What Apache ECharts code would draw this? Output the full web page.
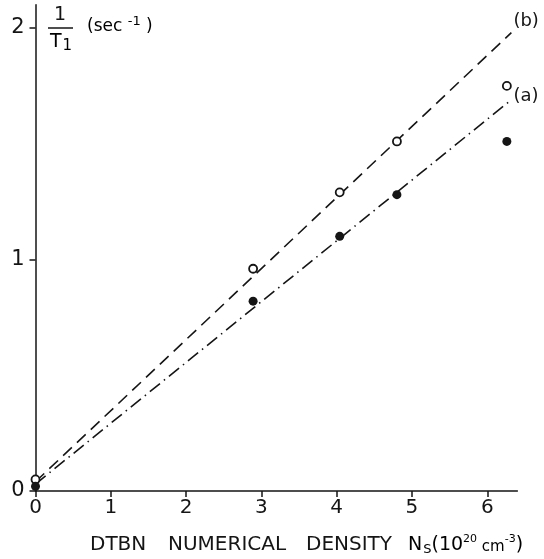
<!DOCTYPE html>
<html>
<head>
<meta charset="utf-8">
<script src="https://cdn.jsdelivr.net/npm/echarts@6/dist/echarts.min.js"></script>
<style>
  html, body { margin: 0; padding: 0; background: #fff; }
  #chart { width: 544px; height: 559px; }
</style>
</head>
<body>
<div id="chart"></div>
<script>
// Relaxation rate 1/T1 against DTBN numerical density
const densityB = [0, 2.89, 4.04, 4.80, 6.26];
const rateB = [0.05, 0.96, 1.29, 1.51, 1.75];
const densityA = [0, 2.89, 4.04, 4.80, 6.26];
const rateA = [0.02, 0.82, 1.10, 1.28, 1.51];

// Straight fitted lines (end points)
const fitX = [0, 6.32];
const fitB = [0.04, 1.98];
const fitA = [0.03, 1.69];

const xTicks = [0, 1, 2, 3, 4, 5, 6];
const yTicks = [0, 1, 2];

const ink = '#151515';
const font = 'DejaVu Sans';

const zip = (xs, ys) => xs.map((x, i) => [x, ys[i]]);

const chart = echarts.init(document.getElementById('chart'), null, { renderer: 'canvas' });

chart.setOption({
  animation: false,
  backgroundColor: '#fff',
  grid: { left: 35.5, right: 26.6, top: 4.85, bottom: 68, containLabel: false },
  xAxis: {
    type: 'value', min: 0, max: 6.4,
    splitLine: { show: false },
    axisLine: { show: true, onZero: false, lineStyle: { color: ink, width: 1.5 } },
    axisTick: { show: true, customValues: xTicks, length: 6, lineStyle: { color: ink, width: 1.5 } },
    axisLabel: { customValues: xTicks, color: ink, fontFamily: font, fontSize: 20, margin: 7 }
  },
  yAxis: {
    type: 'value', min: 0, max: 2.1,
    splitLine: { show: false },
    axisLine: { show: true, onZero: false, lineStyle: { color: ink, width: 1.5 } },
    axisTick: { show: true, customValues: yTicks, length: 6, lineStyle: { color: ink, width: 1.5 } },
    axisLabel: { customValues: yTicks, color: ink, fontFamily: font, fontSize: 21, margin: 11 }
  },
  series: [
    {
      name: 'fit (b)', type: 'line', data: zip(fitX, fitB), showSymbol: false, z: 2,
      lineStyle: { color: ink, width: 1.6, type: [12, 7] },
      endLabel: { show: true, formatter: '(b)', color: ink, fontFamily: font, fontSize: 18,
        distance: 2, offset: [0, -11] }
    },
    {
      name: 'fit (a)', type: 'line', data: zip(fitX, fitA), showSymbol: false, z: 2,
      lineStyle: { color: ink, width: 1.6, type: [13, 5, 1.5, 5] },
      endLabel: { show: true, formatter: '(a)', color: ink, fontFamily: font, fontSize: 18,
        distance: 2, offset: [0, -3] }
    },
    {
      name: '(b)', type: 'scatter', data: zip(densityB, rateB), symbol: 'circle', symbolSize: 8, z: 3,
      itemStyle: { color: '#fff', borderColor: ink, borderWidth: 1.8, opacity: 1 }
    },
    {
      name: '(a)', type: 'scatter', data: zip(densityA, rateA), symbol: 'circle', symbolSize: 9, z: 4,
      itemStyle: { color: ink, opacity: 1 }
    }
  ],
  graphic: [
    // y-axis title: 1/T1 (sec^-1)
    { type: 'text', x: 60, y: 15, style: { text: '1', font: '19px "DejaVu Sans"', fill: ink, align: 'center', verticalAlign: 'middle' } },
    { type: 'line', shape: { x1: 48, y1: 28, x2: 73, y2: 28 }, style: { stroke: ink, lineWidth: 1.5 } },
    { type: 'text', x: 50, y: 42, style: {
        text: '{t|T}{s|1}', verticalAlign: 'middle',
        rich: {
          t: { fontFamily: font, fontSize: 19, color: ink },
          s: { fontFamily: font, fontSize: 15, color: ink, padding: [9, 0, 0, 1] }
        } } },
    { type: 'text', x: 87, y: 27, style: {
        text: '{p|(sec }{u|-1}{p| )}', verticalAlign: 'middle',
        rich: {
          p: { fontFamily: font, fontSize: 17, color: ink },
          u: { fontFamily: font, fontSize: 13, color: ink, padding: [0, 0, 11, 0] }
        } } },
    // x-axis title
    { type: 'text', x: 90, y: 545, style: { text: 'DTBN', font: '20px "DejaVu Sans"', fill: ink, verticalAlign: 'middle' } },
    { type: 'text', x: 168, y: 545, style: { text: 'NUMERICAL', font: '20px "DejaVu Sans"', fill: ink, verticalAlign: 'middle' } },
    { type: 'text', x: 306, y: 545, style: { text: 'DENSITY', font: '20px "DejaVu Sans"', fill: ink, verticalAlign: 'middle' } },
    { type: 'text', x: 408, y: 545, style: {
        text: '{n|N}{s|S}{n|(10}{u|20}{c| cm}{u|-3}{n|)}', verticalAlign: 'middle',
        rich: {
          n: { fontFamily: font, fontSize: 19, color: ink },
          c: { fontFamily: font, fontSize: 15, color: ink, padding: [4, 0, 0, 0] },
          s: { fontFamily: font, fontSize: 13, color: ink, padding: [10, 0, 0, 1] },
          u: { fontFamily: font, fontSize: 11, color: ink, padding: [0, 0, 12, 0] }
        } } }
  ]
});
</script>
</body>
</html>
